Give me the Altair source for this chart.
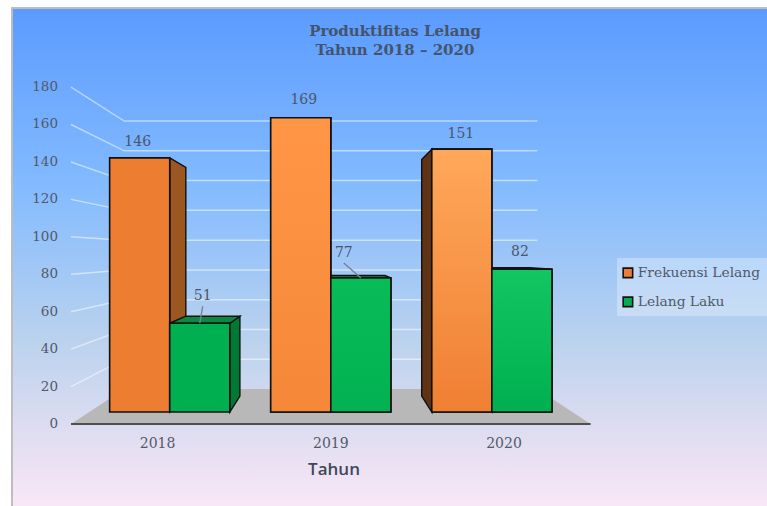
import altair as alt
import pandas as pd

# Chart values
YEARS = ["2018", "2019", "2020"]
SERIES = ["Frekuensi Lelang", "Lelang Laku"]
FREKUENSI = [146, 169, 151]
LAKU = [51, 77, 82]
TICKS = [0, 20, 40, 60, 80, 100, 120, 140, 160, 180]
TITLE_LINES = ["Produktifitas Lelang", "Tahun 2018 – 2020"]
X_TITLE = "Tahun"

SERIF = "DejaVu Serif"
INK = "#44546A"
LABEL_INK = "#505A68"

# Canvas scale: the front plane of the box is laid out in axis units
W, H = 767, 506
PX_X, PX_Y = 173.2, 1.872
LEFT_PX, ZERO_PX = 71, 424
X_DOMAIN = [-LEFT_PX / PX_X, (W - LEFT_PX) / PX_X]
Y_DOMAIN = [-(H - ZERO_PX) / PX_Y, ZERO_PX / PX_Y]

# Perspective: depth s shrinks everything towards a vanishing point
VANISH_X, VANISH_V = 1.5, 91.3
WALL_S, BAR_S, BAR_BACK_S = 0.795, 0.93, 0.93 * 0.9
BAR_WIDTH = 0.373


def px(x, s):
    return VANISH_X + (x - VANISH_X) * s


def pv(v, s):
    return VANISH_V + (v - VANISH_V) * s


# Back wall grid lines, running from the axis plane to the wall and across it
grid_rows = []
for t in TICKS[1:]:
    grid_rows += [
        {"tick": t, "x": px(0, 1), "y": pv(t, 1), "o": 0},
        {"tick": t, "x": px(0, WALL_S), "y": pv(t, WALL_S), "o": 1},
        {"tick": t, "x": px(3, WALL_S), "y": pv(t, WALL_S), "o": 2},
    ]
grid = pd.DataFrame(grid_rows)

floor = pd.DataFrame(
    [
        {"x": px(0, 1), "x2": px(3, 1), "y": pv(0, 1)},
        {"x": px(0, WALL_S), "x2": px(3, WALL_S), "y": pv(0, WALL_S)},
    ]
)

# Bars: front faces plus whichever side and top faces are in view
SIDE_FILL = {
    ("Frekuensi Lelang", 0): "#9C561F",
    ("Frekuensi Lelang", 1): "#9C561F",
    ("Frekuensi Lelang", 2): "#5F3313",
    ("Lelang Laku", 0): "#007A33",
    ("Lelang Laku", 1): "#007A33",
    ("Lelang Laku", 2): "#007A33",
}
TOP_FILL = "#0A8A40"

fronts, sides, tops = [], [], []
for si, (name, values) in enumerate(zip(SERIES, [FREKUENSI, LAKU])):
    for yi, value in enumerate(values):
        centre = yi + 0.5
        x0 = centre - BAR_WIDTH + si * BAR_WIDTH
        x1 = x0 + BAR_WIDTH
        fronts.append(
            {
                "series": name,
                "year": yi,
                "value": value,
                "x": px(x0, BAR_S),
                "x2": px(x1, BAR_S),
                "y": pv(value, BAR_S),
                "y2": pv(0, BAR_S),
            }
        )
        edge = None
        if x1 < VANISH_X - 1e-6:
            edge = x1
        elif x0 > VANISH_X + 1e-6:
            edge = x0
        if edge is not None:
            face = f"{si}-{yi}"
            for s in (BAR_S, BAR_BACK_S):
                sides.append(
                    {
                        "face": face,
                        "series": name,
                        "x": px(edge, s),
                        "y": pv(value, s),
                        "y2": pv(0, s),
                        "fill": SIDE_FILL[(name, yi)],
                    }
                )
        if value < VANISH_V:
            for s in (BAR_S, BAR_BACK_S):
                tops.append(
                    {
                        "face": f"{si}-{yi}",
                        "series": name,
                        "x": px(x0, s),
                        "x2": px(x1, s),
                        "y": pv(value, s),
                    }
                )

fronts = pd.DataFrame(fronts)
sides = pd.DataFrame(sides)
tops = pd.DataFrame(tops)

# Value labels, nudged in pixels from the top centre of their bar
NUDGE = {
    ("Frekuensi Lelang", 0): (-2, -16),
    ("Frekuensi Lelang", 1): (3, -18),
    ("Frekuensi Lelang", 2): (-1, -15),
    ("Lelang Laku", 0): (3, -27),
    ("Lelang Laku", 1): (-17, -25),
    ("Lelang Laku", 2): (-2, -17),
}
labels = fronts.copy()
labels["cx"] = (labels["x"] + labels["x2"]) / 2
labels["lx"] = [
    cx + NUDGE[(s, y)][0] / PX_X for cx, s, y in zip(labels["cx"], labels["series"], labels["year"])
]
labels["ly"] = [
    v - NUDGE[(s, y)][1] / PX_Y for v, s, y in zip(labels["y"], labels["series"], labels["year"])
]

# Leader lines only for the labels set well away from their bar
leaders = labels[labels["series"].eq("Lelang Laku") & labels["year"].lt(2)].copy()
leaders["sx"] = leaders["lx"]
leaders["sy"] = leaders["ly"] - 10 / PX_Y

x_scale = alt.Scale(domain=X_DOMAIN, nice=False, zero=False)
y_scale = alt.Scale(domain=Y_DOMAIN, nice=False, zero=False)
X = alt.X("x:Q", scale=x_scale, axis=None)
Y = alt.Y("y:Q", scale=y_scale, axis=None)

background = alt.Chart(pd.DataFrame({"a": [0]})).mark_rect(
    stroke="#BDBDBD",
    strokeWidth=2,
    fill=alt.Gradient(
        gradient="linear",
        x1=0,
        y1=0,
        x2=0,
        y2=1,
        stops=[
            alt.GradientStop(offset=0, color="#5B9BFF"),
            alt.GradientStop(offset=0.36, color="#84BBFF"),
            alt.GradientStop(offset=0.66, color="#BAD2EE"),
            alt.GradientStop(offset=0.86, color="#E2DEF1"),
            alt.GradientStop(offset=1, color="#FAE8F8"),
        ],
    ),
).encode(x=alt.value(12), x2=alt.value(W + 4), y=alt.value(8), y2=alt.value(H + 4))

legend_box = alt.Chart(pd.DataFrame({"a": [0]})).mark_rect(
    fill="#FFFFFF", opacity=0.3
).encode(x=alt.value(617), x2=alt.value(W), y=alt.value(258), y2=alt.value(316))

# Axis labels and title, set beside the front plane of the box
y_tick_labels = alt.Chart(
    pd.DataFrame({"x": [-13 / PX_X] * len(TICKS), "y": TICKS, "text": [str(t) for t in TICKS]})
).mark_text(
    font=SERIF, fontSize=13.5, color=LABEL_INK, align="right", baseline="middle"
).encode(x=X, y=Y, text="text:N")

x_tick_labels = alt.Chart(
    pd.DataFrame(
        {"x": [i + 0.5 for i in range(len(YEARS))], "y": [-20 / PX_Y] * len(YEARS), "text": YEARS}
    )
).mark_text(
    font=SERIF, fontSize=14, color=LABEL_INK, baseline="middle"
).encode(x=X, y=Y, text="text:N")

x_title = alt.Chart(
    pd.DataFrame({"x": [263 / PX_X], "y": [-46 / PX_Y], "text": [X_TITLE]})
).mark_text(
    font="Open Sans", fontSize=17, fontWeight=600, color="#404858", baseline="middle"
).encode(x=X, y=Y, text="text:N")

grid_layer = alt.Chart(grid).mark_line(color="#FFFFFF", opacity=0.5, strokeWidth=1.5).encode(
    x=X, y=Y, detail="tick:N", order="o:Q"
)

floor_layer = alt.Chart(floor).mark_area(orient="horizontal", color="#B8B8B8").encode(
    x=X, x2="x2:Q", y=Y
)

baseline = alt.Chart(
    pd.DataFrame({"x": [px(0, 1)], "x2": [px(3, 1)], "y": [0]})
).mark_rule(color="#4F4F4F", strokeWidth=2).encode(x=X, x2="x2:Q", y=Y)


def side_layer(name):
    return alt.Chart(sides[sides["series"].eq(name)]).mark_area(
        stroke="#111111", strokeWidth=1.4
    ).encode(
        x=X,
        y=Y,
        y2="y2:Q",
        detail="face:N",
        fill=alt.Fill("fill:N", scale=None),
    )


def top_layer(name):
    return alt.Chart(tops[tops["series"].eq(name)]).mark_area(
        orient="horizontal", stroke="#111111", strokeWidth=1.4, fill=TOP_FILL
    ).encode(x=X, x2="x2:Q", y=Y, detail="face:N")


flat_fronts = alt.Chart(fronts).mark_rect(stroke="#111111", strokeWidth=1.6).encode(
    x=X,
    x2="x2:Q",
    y=Y,
    y2="y2:Q",
    color=alt.Color(
        "series:N",
        scale=alt.Scale(domain=SERIES, range=["#ED7D31", "#00B050"]),
        legend=alt.Legend(
            title=None,
            orient="none",
            legendX=617,
            legendY=262,
            symbolType="square",
            symbolSize=90,
            symbolStrokeColor="#111111",
            symbolStrokeWidth=1.6,
            symbolOpacity=1,
            labelFont=SERIF,
            labelFontSize=13.8,
            labelColor=LABEL_INK,
            labelOffset=3,
            rowPadding=12,
            padding=4,
            labelLimit=160,
        ),
    ),
)


def shaded_front(name, year, top_colour, bottom_colour):
    row = fronts[fronts["series"].eq(name) & fronts["year"].eq(year)]
    return alt.Chart(row).mark_rect(
        stroke="#111111",
        strokeWidth=1.6,
        fill=alt.Gradient(
            gradient="linear",
            x1=0,
            y1=0,
            x2=0,
            y2=1,
            stops=[
                alt.GradientStop(offset=0, color=top_colour),
                alt.GradientStop(offset=1, color=bottom_colour),
            ],
        ),
    ).encode(x=X, x2="x2:Q", y=Y, y2="y2:Q")


shaded = [
    shaded_front(SERIES[0], 1, "#FF9646", "#F58838"),
    shaded_front(SERIES[0], 2, "#FFA85A", "#EF7F33"),
    shaded_front(SERIES[1], 1, "#08BC58", "#02B252"),
    shaded_front(SERIES[1], 2, "#12C662", "#00B050"),
]

leader_layer = alt.Chart(leaders).mark_rule(color="#78838F", strokeWidth=1.4).encode(
    x=alt.X("sx:Q", scale=x_scale, axis=None),
    x2="cx:Q",
    y=alt.Y("sy:Q", scale=y_scale, axis=None),
    y2="y:Q",
)

label_layer = alt.Chart(labels).mark_text(
    font=SERIF, fontSize=14, color="#4A5668", baseline="middle"
).encode(
    x=alt.X("lx:Q", scale=x_scale, axis=None),
    y=alt.Y("ly:Q", scale=y_scale, axis=None),
    text="value:Q",
)

# Two centred title lines, placed in axis units like everything else
title_layer = alt.Chart(
    pd.DataFrame(
        {
            "line": TITLE_LINES,
            "x": [X_DOMAIN[0] + 395 / PX_X] * 2,
            "y": [(ZERO_PX - 31) / PX_Y, (ZERO_PX - 50) / PX_Y],
        }
    )
).mark_text(
    font=SERIF, fontSize=15, fontWeight="bold", color=INK, baseline="middle"
).encode(x=X, y=Y, text="line:N")

chart = alt.layer(
    background,
    legend_box,
    grid_layer,
    floor_layer,
    baseline,
    side_layer(SERIES[0]),
    side_layer(SERIES[1]),
    top_layer(SERIES[1]),
    flat_fronts,
    *shaded,
    leader_layer,
    label_layer,
    y_tick_labels,
    x_tick_labels,
    x_title,
    title_layer,
).properties(
    width=W,
    height=H,
    padding=0,
    autosize=alt.AutoSizeParams(type="none"),
    background="#FFFFFF",
).configure_view(stroke=None)

chart.save("out.html", embed_options={"renderer": "svg", "actions": False})
